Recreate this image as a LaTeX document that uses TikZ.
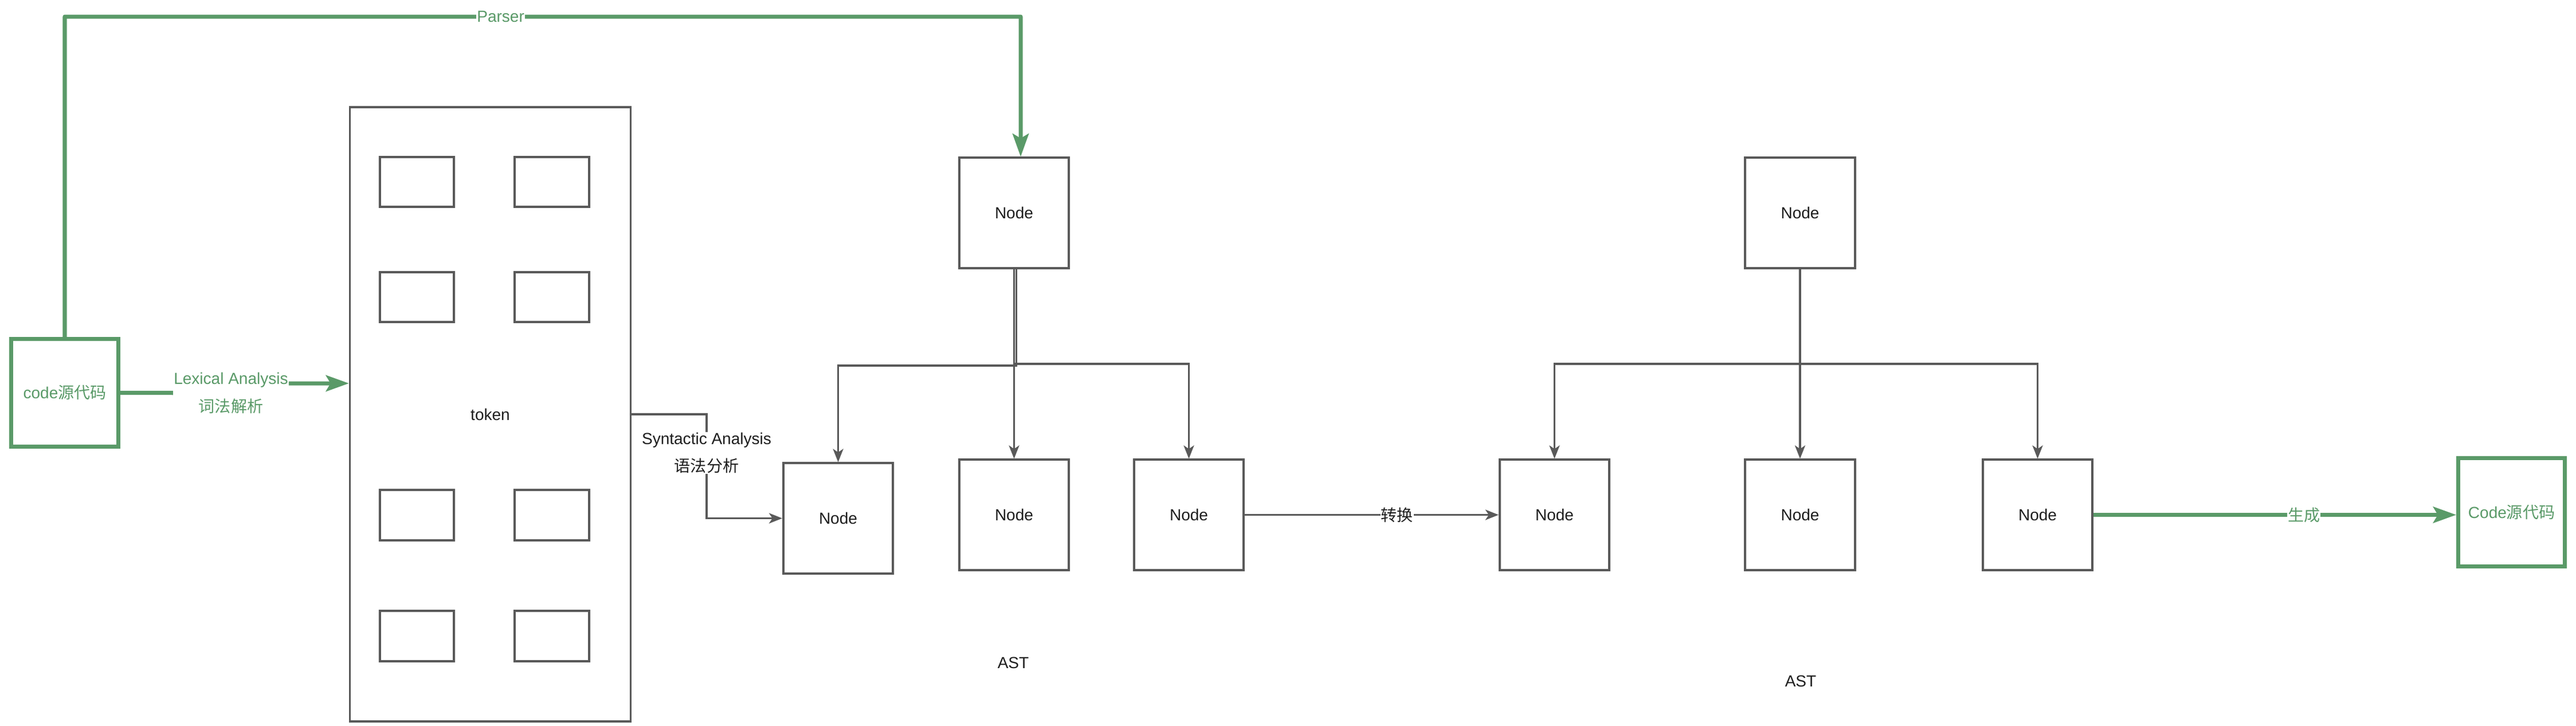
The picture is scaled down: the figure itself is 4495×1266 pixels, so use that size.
\documentclass[tikz,border=0pt]{standalone}
\usepackage{fontspec}
\setmainfont{Liberation Sans}
\newfontfamily\cjk{Noto Sans CJK SC}
\usetikzlibrary{arrows.meta,calc}
\definecolor{gline}{HTML}{595959}
\definecolor{greenc}{HTML}{5A9A68}
\definecolor{txt}{HTML}{1E1E1E}
\begin{document}
\begin{tikzpicture}[x=0.01cm,y=-0.01cm,
  font=\fontsize{7.97pt}{13.66pt}\selectfont,
  nodebox/.style={draw=gline, line width=0.04cm, minimum width=1.91cm, minimum height=1.92cm, inner sep=0pt, text=txt},
  tokbox/.style={draw=gline, line width=0.04cm, minimum width=1.29cm, minimum height=0.87cm, inner sep=0pt},
  bigbox/.style={draw=gline, line width=0.035cm, minimum width=4.895cm, minimum height=10.715cm, inner sep=0pt, text=txt},
  gbox/.style={draw=greenc, line width=0.07cm, minimum width=1.86cm, minimum height=1.88cm, inner sep=0pt, text=greenc},
  gedge/.style={draw=greenc, line width=0.07cm, line join=round, -{Stealth[length=0.40cm,width=0.28cm,inset=0.08cm]}},
  kedge/.style={draw=gline, line width=0.035cm, -{Stealth[length=0.23cm,width=0.18cm,inset=0.06cm]}},
  lbl/.style={fill=white, inner sep=0.01cm, align=center},
  plain/.style={text=txt, inner sep=0pt}]
\useasboundingbox (0,0) rectangle (4495,1266);
\fill[white] (0,0) rectangle (4495,1266);

% source code box
\node[gbox] (c1) at (113,685.5) {code{\cjk 源代码}};

% token container
\node[bigbox] (tok) at (855.5,723) {token};
\foreach \i/\x/\y in {1/727.5/317.5, 2/963/317.5, 3/727.5/518.5, 4/963/518.5,
                      5/727.5/899, 6/963/899, 7/727.5/1110, 8/963/1110}
  \node[tokbox] (k\i) at (\x,\y) {};

% AST 1
\node[nodebox] (t1) at (1769.5,371.5) {Node};
\node[nodebox] (n1) at (1462.5,904.5) {Node};
\node[nodebox] (n2) at (1769.5,898.5) {Node};
\node[nodebox] (n3) at (2074.5,898.5) {Node};
\node[plain] (ast1) at (1768,1157) {AST};

% AST 2
\node[nodebox] (t2) at (3141,371.5) {Node};
\node[nodebox] (n4) at (2712.5,898.5) {Node};
\node[nodebox] (n5) at (3141,898.5) {Node};
\node[nodebox] (n6) at (3555.5,898.5) {Node};
\node[plain] (ast2) at (3142,1189) {AST};

% generated code box
\node[gbox] (c2) at (4382.5,894) {Code{\cjk 源代码}};

% Parser edge
\coordinate (pa) at (113,29);
\coordinate (pb) at (1781,29);
\coordinate (pt) at ([xshift=0.115cm]t1.north);
\draw[gedge] (c1.north) -- (pa) -- node[lbl, pos=0.456, text=greenc] (plbl) {Parser} (pb) -- (pt);

% Lexical analysis edge
\coordinate (lx1) at (403,686);
\coordinate (lx2) at (403,669);
\draw[gedge] (c1.east) -- (lx1) -- (lx2) -- (tok.west |- lx2);
\node[lbl, text=greenc] (lexlbl) at (403,686) {Lexical Analysis\\{\cjk 词法解析}};

% Syntactic analysis edge
\coordinate (sy1) at (1233,723);
\draw[kedge] (tok.east |- sy1) -- (sy1) |- (n1.west);
\node[lbl, text=txt] (synlbl) at (1233,790.5) {Syntactic Analysis\\{\cjk 语法分析}};

% tree 1 edges
\coordinate (b1) at (0,638);
\coordinate (b1r) at (0,635);
\coordinate (t1s) at ([xshift=0.04cm]t1.south);
\draw[kedge] (t1s) -- (t1s |- b1) -| (n1.north);
\draw[kedge] (t1.south) -- (n2.north);
\draw[kedge] (t1.south) -- (t1.south |- b1r) -| (n3.north);

% tree 2 edges
\coordinate (b2) at (0,635);
\draw[kedge] (t2.south) -- (t2.south |- b2) -| (n4.north);
\draw[kedge] (t2.south) -- (n5.north);
\draw[kedge] (t2.south) -- (t2.south |- b2) -| (n6.north);

% transform edge
\draw[kedge] (n3.east) -- node[lbl, pos=0.6, text=txt] (trlbl) {\cjk 转换} (n4.west);

% generate edge
\draw[gedge] (n6.east) -- node[lbl, pos=0.58, text=greenc] (genlbl) {\cjk 生成} (n6.east -| c2.west);
\end{tikzpicture}
\end{document}
